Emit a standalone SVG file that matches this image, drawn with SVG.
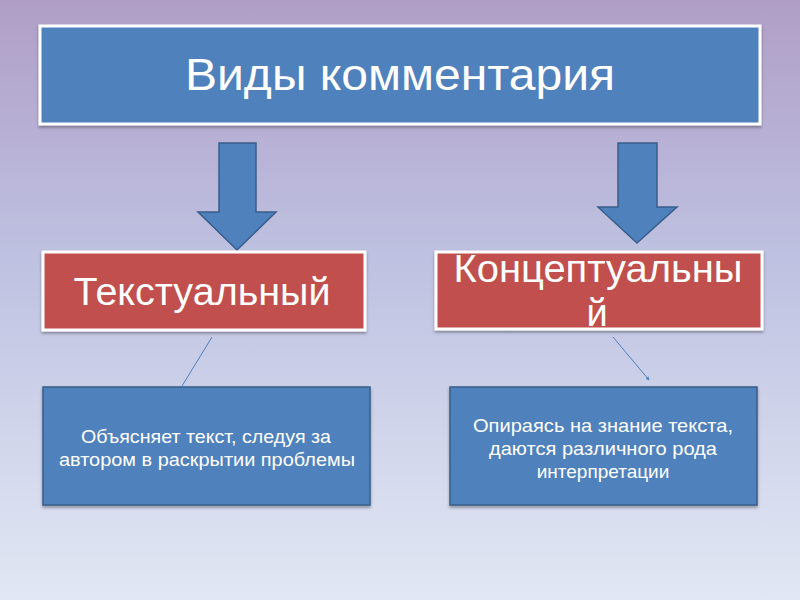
<svg xmlns="http://www.w3.org/2000/svg" width="800" height="600" viewBox="0 0 800 600">
<defs>
<linearGradient id="bg" x1="0" y1="0" x2="0" y2="1">
<stop offset="0" stop-color="#B09EC7"/>
<stop offset="0.45" stop-color="#BFC3E2"/>
<stop offset="1" stop-color="#E2E7F4"/>
</linearGradient>
<filter id="sh" x="-5%" y="-10%" width="110%" height="125%">
<feDropShadow dx="0" dy="2" stdDeviation="1.5" flood-color="#000" flood-opacity="0.35"/>
</filter>
<marker id="ah" viewBox="0 0 6 6" refX="5" refY="3" markerWidth="4" markerHeight="4" orient="auto">
<path d="M0,0 L6,3 L0,6 z" fill="#4F81BD"/>
</marker>
</defs>
<style>
.blue{fill:#4F81BD;stroke:#FFFFFF;stroke-width:3}
.red{fill:#C0504D;stroke:#FFFFFF;stroke-width:3}
.dblue{fill:#4F81BD;stroke:#385D8A;stroke-width:1.5}
.arrow{fill:#4F81BD;stroke:#385D8A;stroke-width:1.5}
text{font-family:"Liberation Sans",Arial,sans-serif;fill:#FFFFFF;text-anchor:middle}
.t1{font-size:44px}
.t2{font-size:38px}
.t3{font-size:19px}
.conn{stroke:#4F81BD;stroke-width:1;fill:none}
</style>
<rect width="800" height="600" fill="url(#bg)"/>
<g id="title">
<rect class="blue" x="40" y="26" width="720" height="98" filter="url(#sh)"/>
<text class="t1" x="400" y="90" textLength="430" lengthAdjust="spacingAndGlyphs">Виды комментария</text>
</g>
<g id="arrow-left">
<path class="arrow" d="M219,143 L256,143 L256,212 L276,212 L237,250 L198,212 L219,212 z"/>
</g>
<g id="arrow-right">
<path class="arrow" d="M618,143 L657,143 L657,207 L677,207 L637,243 L598,207 L618,207 z"/>
</g>
<g id="textual">
<rect class="red" x="43" y="252" width="322" height="78" filter="url(#sh)"/>
<text class="t2" x="202" y="305" textLength="257" lengthAdjust="spacingAndGlyphs">Текстуальный</text>
</g>
<g id="conceptual">
<rect class="red" x="436" y="252" width="326" height="77" filter="url(#sh)"/>
<text class="t2" x="598" y="282" textLength="289" lengthAdjust="spacingAndGlyphs">Концептуальны</text>
<text class="t2" x="597" y="326">й</text>
</g>
<g id="connectors">
<line class="conn" x1="212" y1="337" x2="182" y2="386"/>
<line class="conn" x1="613" y1="337" x2="649" y2="380" marker-end="url(#ah)"/>
</g>
<g id="desc-left">
<rect class="dblue" x="43" y="387" width="327" height="118" filter="url(#sh)"/>
<text class="t3" x="206" y="443" textLength="250" lengthAdjust="spacingAndGlyphs">Объясняет текст, следуя за</text>
<text class="t3" x="207" y="466" textLength="296" lengthAdjust="spacingAndGlyphs">автором в раскрытии проблемы</text>
</g>
<g id="desc-right">
<rect class="dblue" x="450" y="387" width="307" height="118" filter="url(#sh)"/>
<text class="t3" x="603" y="432" textLength="260" lengthAdjust="spacingAndGlyphs">Опираясь на знание текста,</text>
<text class="t3" x="603" y="455" textLength="228" lengthAdjust="spacingAndGlyphs">даются различного рода</text>
<text class="t3" x="603" y="478">интерпретации</text>
</g>
</svg>
